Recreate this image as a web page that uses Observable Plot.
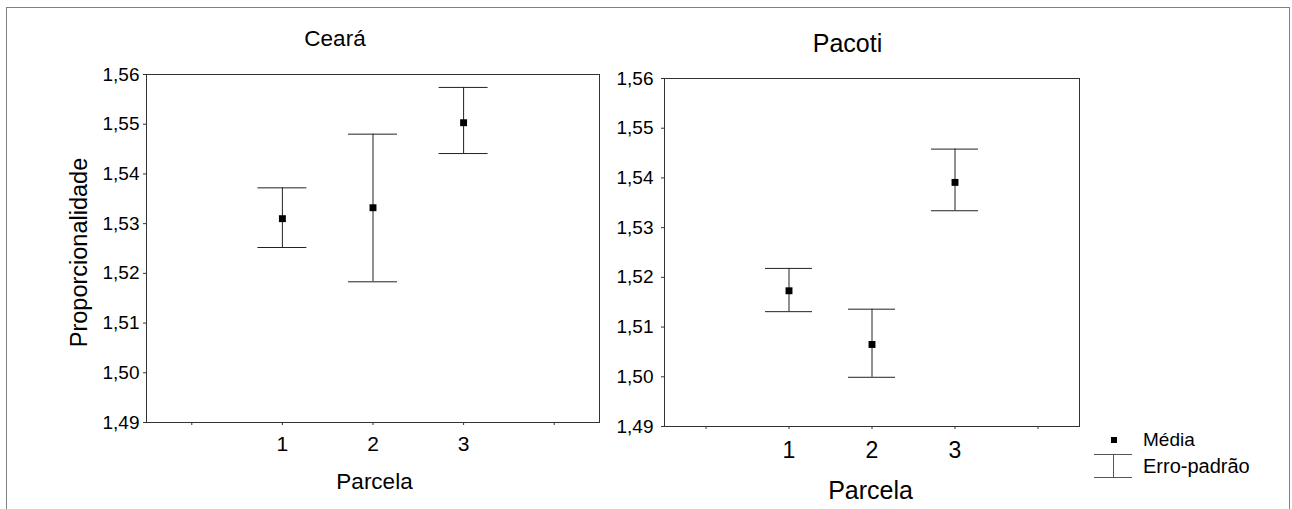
<!DOCTYPE html>
<html><head><meta charset="utf-8">
<script src="https://cdn.jsdelivr.net/npm/d3@7"></script>
<script src="https://cdn.jsdelivr.net/npm/@observablehq/plot@0.6"></script>
<style>
body{margin:0;background:#fff;}
#wrap{position:relative;width:1292px;height:509px;overflow:hidden;background:#fff;font-family:"Liberation Sans",Arial,Helvetica,sans-serif;}
#border{position:absolute;left:6px;top:7px;width:1284px;height:600px;border:1px solid #808080;box-sizing:border-box;}
.panel{position:absolute;top:0;}
#legend{position:absolute;left:1085px;top:425px;}
</style></head><body>
<div id="wrap">
  <div id="border"></div>
  <div id="left" class="panel" style="left:0px"></div>
  <div id="right" class="panel" style="left:605px"></div>
  <div id="legend"></div>
</div>
<script>
// ---- data ----
const parcelas = [1, 2, 3];
const cearaMedia = [1.5310, 1.5332, 1.5503];
const cearaSup   = [1.5372, 1.5480, 1.5574];
const cearaInf   = [1.5252, 1.5183, 1.5441];
const pacotiMedia = [1.5173, 1.5065, 1.5391];
const pacotiSup   = [1.5218, 1.5136, 1.5458];
const pacotiInf   = [1.5131, 1.4999, 1.5334];
const yTicks = [1.49, 1.50, 1.51, 1.52, 1.53, 1.54, 1.55, 1.56];
const xTicks = [0, 1, 2, 3, 4];
const xTickLabels = ["", "1", "2", "3", ""];
const legendLabels = ["Média", "Erro-padrão"];

const FONT = '"Liberation Sans", Arial, Helvetica, sans-serif';
const fmt = d => d.toFixed(2).replace(".", ",");

function panel(o) {
  const data = parcelas.map((p, i) => ({parcela: p, media: o.media[i], sup: o.sup[i], inf: o.inf[i]}));
  const frameW = o.width - o.ml - o.mr;
  const capHalf = o.capPx / (frameW / 5);
  const marks = [
    Plot.frame({stroke: "#333"}),
    Plot.axisY({ticks: yTicks, tickFormat: fmt, tickSize: 3, tickPadding: o.yPad, fontSize: o.yFont, label: null, stroke: "#333"}),
    Plot.axisX({ticks: xTicks, tickFormat: d => xTickLabels[xTicks.indexOf(d)], tickSize: 3, tickPadding: o.xPad, fontSize: o.xFont, label: null, stroke: "#333"}),
    Plot.ruleX(data, {x: "parcela", y1: "inf", y2: "sup", stroke: "#222", strokeWidth: 1}),
    Plot.ruleY(data, {y: "sup", x1: d => d.parcela - capHalf, x2: d => d.parcela + capHalf, stroke: "#222", strokeWidth: 1}),
    Plot.ruleY(data, {y: "inf", x1: d => d.parcela - capHalf, x2: d => d.parcela + capHalf, stroke: "#222", strokeWidth: 1}),
    Plot.dot(data, {x: "parcela", y: "media", symbol: "square", r: 3.9, fill: "#000", stroke: null}),
    Plot.text([o.title], {text: d => d, frameAnchor: "top", lineAnchor: "middle", textAnchor: "middle", dx: o.titleDx, dy: o.titleDy, fontSize: o.titleFont, fill: "#000"}),
    Plot.text(["Parcela"], {text: d => d, frameAnchor: "bottom", lineAnchor: "middle", textAnchor: "middle", dx: o.xlabDx, dy: o.xlabDy, fontSize: o.xlabFont, fill: "#000"})
  ];
  if (o.ylabel) marks.push(Plot.text([o.ylabel], {text: d => d, frameAnchor: "left", lineAnchor: "middle", textAnchor: "middle", rotate: -90, dx: o.ylabDx, dy: o.ylabDy, fontSize: o.ylabFont, fill: "#000"}));
  return Plot.plot({
    width: o.width, height: 509,
    marginLeft: o.ml, marginRight: o.mr, marginTop: o.mt, marginBottom: o.mb,
    style: {background: "transparent", fontFamily: FONT, color: "#000", overflow: "visible"},
    x: {domain: [-0.5, 4.5]},
    y: {domain: [1.49, 1.56]},
    marks
  });
}

document.getElementById("left").appendChild(panel({
  media: cearaMedia, sup: cearaSup, inf: cearaInf, title: "Ceará", ylabel: "Proporcionalidade",
  width: 605, ml: 146, mr: 6, mt: 74, mb: 87, capPx: 24.5,
  yPad: 4, yFont: 19, xPad: 11, xFont: 21,
  titleDx: -38, titleDy: -35.5, titleFont: 22.5,
  xlabDx: 1.5, xlabDy: 59.5, xlabFont: 22.5,
  ylabDx: -67, ylabDy: 4, ylabFont: 23.5
}));

document.getElementById("right").appendChild(panel({
  media: pacotiMedia, sup: pacotiSup, inf: pacotiInf, title: "Pacoti", ylabel: null,
  width: 480, ml: 59, mr: 6, mt: 78, mb: 83, capPx: 23.5,
  yPad: 8, yFont: 19, xPad: 12, xFont: 23,
  titleDx: -24.5, titleDy: -35, titleFont: 25,
  xlabDx: -1.5, xlabDy: 64, xlabFont: 25
}));

// ---- legend ----
const lg = d3.select("#legend").append("svg").attr("width", 200).attr("height", 70)
  .style("font-family", FONT);
lg.append("rect").attr("x", 26).attr("y", 12).attr("width", 6).attr("height", 6).attr("fill", "#000");
lg.append("text").attr("x", 58).attr("y", 21).attr("font-size", 19).text(legendLabels[0]);
lg.append("line").attr("x1", 9).attr("x2", 47).attr("y1", 29.5).attr("y2", 29.5).attr("stroke", "#555");
lg.append("line").attr("x1", 9).attr("x2", 47).attr("y1", 52.5).attr("y2", 52.5).attr("stroke", "#555");
lg.append("line").attr("x1", 28.5).attr("x2", 28.5).attr("y1", 29.5).attr("y2", 52.5).attr("stroke", "#555");
lg.append("text").attr("x", 58).attr("y", 48).attr("font-size", 20).text(legendLabels[1]);
</script>
</body></html>
